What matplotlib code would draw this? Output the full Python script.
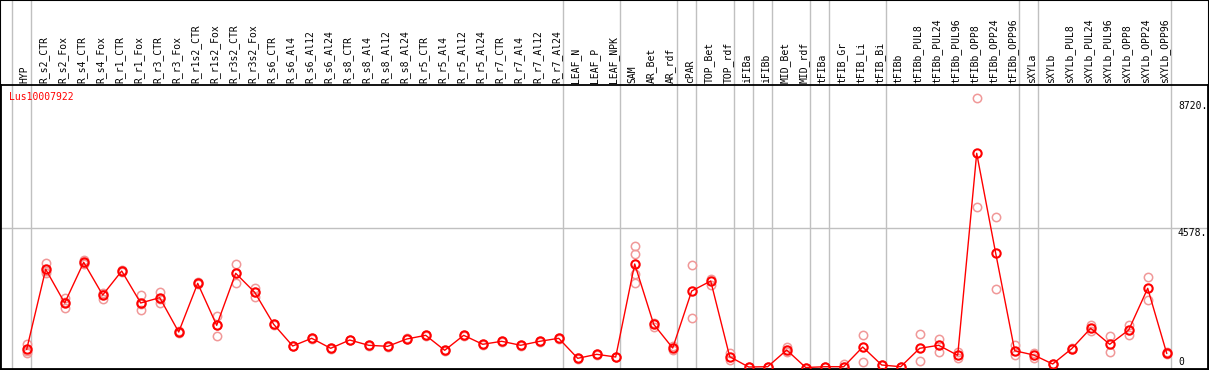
import numpy as np
import matplotlib
matplotlib.use('Agg')
import matplotlib.pyplot as plt
from matplotlib.transforms import blended_transform_factory
from matplotlib.patches import Rectangle

# --- data ---
titre = "Lus10007922"

echantillons = [
    "HYP", "R_s2_CTR", "R_s2_Fox", "R_s4_CTR", "R_s4_Fox", "R_r1_CTR", "R_r1_Fox",
    "R_r3_CTR", "R_r3_Fox", "R_r1s2_CTR", "R_r1s2_Fox", "R_r3s2_CTR", "R_r3s2_Fox",
    "R_s6_CTR", "R_s6_Al4", "R_s6_Al12", "R_s6_Al24", "R_s8_CTR", "R_s8_Al4",
    "R_s8_Al12", "R_s8_Al24", "R_r5_CTR", "R_r5_Al4", "R_r5_Al12", "R_r5_Al24",
    "R_r7_CTR", "R_r7_Al4", "R_r7_Al12", "R_r7_Al24", "LEAF_N", "LEAF_P", "LEAF_NPK",
    "SAM", "AR_Bet", "AR_rdf", "cPAR", "TOP_Bet", "TOP_rdf", "iFIBa", "iFIBb",
    "MID_Bet", "MID_rdf", "tFIBa", "tFIB_Gr", "tFIB_Li", "tFIB_Bi", "tFIBb",
    "tFIBb_PUL8", "tFIBb_PUL24", "tFIBb_PUL96", "tFIBb_OPP8", "tFIBb_OPP24",
    "tFIBb_OPP96", "sXYLa", "sXYLb", "sXYLb_PUL8", "sXYLb_PUL24", "sXYLb_PUL96",
    "sXYLb_OPP8", "sXYLb_OPP24", "sXYLb_OPP96",
]

moyennes = [
    596, 3215, 2112, 3444, 2374, 3159, 2112, 2286, 1162, 2756, 1381, 3084, 2462,
    1414, 704, 956, 629, 900, 727, 694, 933, 1054, 563, 1054, 760, 858, 727, 858,
    956, 301, 432, 344, 3389, 1414, 638, 2505, 2832, 354, 16, 26, 573, 0, 26, 26,
    671, 82, 26, 629, 727, 399, 7013, 3739, 550, 409, 115, 616, 1283, 760, 1228,
    2593, 465,
]

replicats = [
    [770, 485, 540], [3421, 3084, 3150], [2265, 1938, 2130], [3520, 3411, 3400],
    [2429, 2243, 2420], [3190, 3130], [2374, 1883, 2080], [2482, 2122, 2250],
    [1190, 1130], [2790, 2720], [1696, 1041, 1400], [3389, 2777, 3084],
    [2613, 2318, 2460], [1440, 1390], [720, 690], [970, 940], [640, 615],
    [915, 885], [740, 715], [705, 680], [950, 920], [1070, 1040], [575, 550],
    [1070, 1040], [775, 745], [870, 845], [740, 715], [870, 845], [970, 940],
    [315, 290], [445, 420], [360, 330], [3978, 3706, 3051, 2777], [1470, 1340],
    [700, 560], [3356, 1611], [2908, 2711], [465, 246], [20, 10], [30, 20],
    [660, 500], [0, 0], [26, 26], [100, 20], [1054, 170], [90, 70], [26, 26],
    [1087, 213], [933, 498], [517, 301], [8814, 5245], [4927, 2560], [727, 419],
    [480, 300], [120, 110], [640, 600], [1391, 1205], [1031, 498], [1381, 1054],
    [2953, 2210], [500, 440],
]

# separations entre groupes (apres l'echantillon d'indice i)
separations = [-1, 0, 28, 31, 34, 35, 37, 38, 39, 41, 42, 45, 52, 53, 60]

reperes_y = [0, 4578, 8720]
etiquettes_y = ["0", "4578.", "8720."]

# --- figure ---
W, H = 1209, 370
fig = plt.figure(figsize=(W / 100, H / 100), dpi=100)
ax = fig.add_axes([1 / W, 1.3 / H, 1207 / W, (368.7 - 85) / H])

police = dict(family='DejaVu Sans Mono', size=7)

x = np.arange(len(echantillons))
ax.set_xlim((1 - 26.7) / 19, (1208 - 26.7) / 19)
ax.set_ylim(-39, 9249)
ax.set_xticks([])
ax.set_yticks([])
for s in ax.spines.values():
    s.set_color('black')
    s.set_linewidth(1.3)

# grille horizontale
ax.axhline(4578, color='#c0c0c0', lw=1, zorder=0)

# lignes verticales sur toute la hauteur
tr_fig = blended_transform_factory(ax.transData, fig.transFigure)
for i in separations:
    ax.plot([i + 4 / 19, i + 4 / 19], [0, 1], color='#c0c0c0', lw=1,
            transform=tr_fig, clip_on=False, zorder=0)

# replicats
for i, reps in enumerate(replicats):
    ax.plot([i] * len(reps), reps, 'o', ms=6, mfc='none', mec='#f09898',
            mew=1.1, zorder=2)

# moyennes
ax.plot(x, moyennes, '-', color='red', lw=1, zorder=3)
ax.plot(x, moyennes, 'o', ms=6, mfc='none', mec='red', mew=1.5, zorder=4)

# etiquettes d'echantillons
for i, nom in enumerate(echantillons):
    ax.text(i - 0.1, (H - 83) / H, nom, rotation=90, ha='center', va='bottom',
            transform=tr_fig, color='black', **police)

# valeurs a droite
decalages = [6, -5, -5]
for v, lab, d in zip(reperes_y, etiquettes_y, decalages):
    ax.annotate(lab, xy=(1178 / W, v), xycoords=('figure fraction', 'data'),
                xytext=(0, d), textcoords='offset pixels', va='center',
                ha='left', color='black', **police)

ax.text(8.3 / 1207, 1 - (97.3 - 85) / 283.7, titre, color='red',
        transform=ax.transAxes, va='center', ha='left', **police)

fig.patches.append(Rectangle((0, 0), 1, 1, transform=fig.transFigure,
                             fill=False, ec='black', lw=1.5))

fig.savefig('out.png', dpi=100)
